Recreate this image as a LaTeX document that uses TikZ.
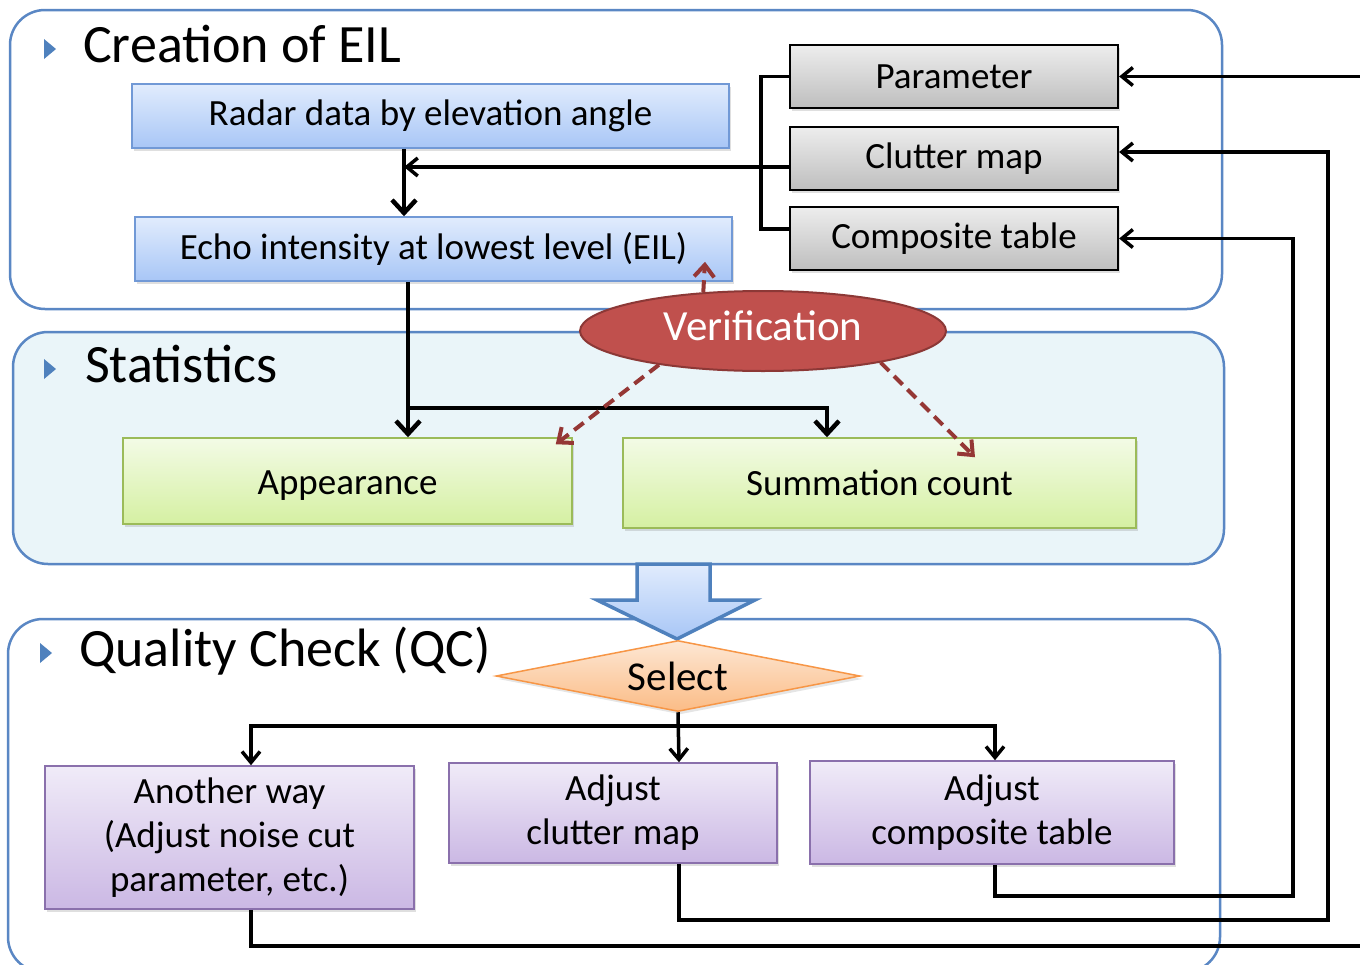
\documentclass[tikz,border=0pt]{standalone}
\usepackage{fontspec}
\setmainfont{Carlito}
\usetikzlibrary{arrows.meta,shapes.geometric,shadows}
\definecolor{panelc}{HTML}{5A87C4}
\definecolor{statfill}{HTML}{EAF5F9}
\definecolor{blueT}{HTML}{E1ECFD}
\definecolor{blueB}{HTML}{A8C6F6}
\definecolor{blueD}{HTML}{7199D6}
\definecolor{grayT}{HTML}{EDEDED}
\definecolor{grayB}{HTML}{BEBEBE}
\definecolor{greenT}{HTML}{F3FBE6}
\definecolor{greenB}{HTML}{D5F0A2}
\definecolor{greenD}{HTML}{9BBB59}
\definecolor{purT}{HTML}{F0EBF8}
\definecolor{purB}{HTML}{CBB8E4}
\definecolor{purD}{HTML}{8A70AC}
\definecolor{orT}{HTML}{FDE7D4}
\definecolor{orB}{HTML}{FBBC86}
\definecolor{orD}{HTML}{F79646}
\definecolor{verF}{HTML}{C0504D}
\definecolor{verD}{HTML}{8C3836}
\definecolor{verA}{HTML}{953735}
\definecolor{bigD}{HTML}{4F81BD}
\tikzset{
  panel/.style={draw=panelc, line width=2.5pt, rounded corners=35pt},
  box/.style={rectangle, inner sep=0pt, align=center, font=\fontsize{37}{44}\selectfont,
    drop shadow={opacity=0.25, shadow xshift=2pt, shadow yshift=-3pt}},
  bluebox/.style={box, draw=blueD, line width=1.5pt, top color=blueT, bottom color=blueB},
  graybox/.style={box, draw=black, line width=2.2pt, top color=grayT, bottom color=grayB},
  greenbox/.style={box, draw=greenD, line width=1.5pt, top color=greenT, bottom color=greenB},
  purbox/.style={box, draw=purD, line width=1.5pt, top color=purT, bottom color=purB},
  title/.style={anchor=base west, inner sep=0pt, font=\fontsize{54}{60}\selectfont},
  bullet/.style={fill=bigD, draw=none},
  tline/.style={draw=black, line width=3.5pt},
  tarrow/.style={tline, -{Straight Barb[length=11pt,width=18pt]}},
  karrow/.style={draw=black, line width=4.5pt, -{Straight Barb[length=13pt,width=24pt]}},
  varrow/.style={draw=verA, line width=4pt, dash pattern=on 12pt off 7pt,
    -{Straight Barb[length=12pt,width=20pt]}},
}
\begin{document}
\begin{tikzpicture}[x=1pt, y=-1pt]
\clip (0,0) rectangle (1360,964);
\fill[white] (0,0) rectangle (1360,964);

% panels
\draw[panel, fill=white] (10,10) rectangle (1222,309);
\draw[panel, fill=statfill] (13,332) rectangle (1224,564);
\draw[panel, fill=white] (8,619) rectangle (1220,972);

% bullets and titles
\fill[bullet] (44,39) -- (56,49) -- (44,59) -- cycle;
\node[title] (t1) at (83,62) {Creation of EIL};
\fill[bullet] (44,359) -- (56,369) -- (44,379) -- cycle;
\node[title] (t2) at (85,382) {Statistics};
\fill[bullet] (40,643) -- (52,653) -- (40,663) -- cycle;
\node[title] (t3) at (79,666) {Quality Check (QC)};

% creation boxes
\node[bluebox, minimum width=597pt, minimum height=64pt] (radar) at (430.5,116) {Radar data by elevation angle};
\node[bluebox, minimum width=597pt, minimum height=64pt] (echo) at (433.5,249) {Echo intensity at lowest level (EIL)};
\node[graybox, minimum width=328pt, minimum height=63pt] (param) at (954,76.5) {Parameter};
\node[graybox, minimum width=328pt, minimum height=63pt] (clutter) at (954,158.5) {Clutter map};
\node[graybox, minimum width=328pt, minimum height=63pt] (comp) at (954,238.5) {Composite table};

% statistics boxes
\node[greenbox, minimum width=449pt, minimum height=86pt, text height=36pt, text depth=9pt] (app) at (347.5,481) {Appearance};
\node[greenbox, minimum width=513pt, minimum height=90pt] (summ) at (879.5,483) {Summation count};

% QC boxes
\node[purbox, minimum width=369pt, minimum height=143pt] (anoth) at (229.5,837.5) {Another way\\(Adjust noise cut\\parameter, etc.)};
\node[purbox, minimum width=328pt, minimum height=100pt] (adjc) at (613,813) {Adjust\\clutter map};
\node[purbox, minimum width=364pt, minimum height=103pt] (adjt) at (992,812.5) {Adjust\\composite table};

% big arrow
\shade[top color=blueT, bottom color=blueB, draw=bigD, line width=3.5pt, line join=miter]
  (637,564) -- (710,564) -- (710,600) -- (755,600) -- (677,639) -- (597,600) -- (637,600) -- cycle;

% select diamond
\node[diamond, aspect=5.13, draw=orD, line width=1.5pt, top color=orT, bottom color=orB, inner sep=0pt,
  minimum width=364pt, minimum height=71pt, font=\fontsize{41}{44}\selectfont,
  drop shadow={opacity=0.2, shadow xshift=2pt, shadow yshift=-3pt}] (sel) at (678,676) {Select};

% connectors in creation
\draw[karrow] ([xshift=-26.5pt]radar.south) -- ([xshift=-29.5pt]echo.north);
\coordinate (j1) at (404,167);
\draw[tarrow] ([yshift=-8.5pt]clutter.west) -- (j1);
\draw[tline] (param.west) -- ++(-28,0) |- ([yshift=9.5pt]comp.west);

% connectors to statistics
\draw[karrow] ([xshift=-25.5pt]echo.south) -- ([xshift=60.5pt]app.north);
\coordinate (j2) at (408,408);
\draw[karrow] (j2) -| ([xshift=-52.5pt]summ.north);

% verification
\node[ellipse, draw=verD, line width=2pt, fill=verF, inner sep=0pt,
  minimum width=366pt, minimum height=80pt, text=white, text height=30pt, text depth=12pt,
  font=\fontsize{43}{44}\selectfont] (ver) at (763,331) {Verification};
\draw[varrow] (ver.147) -- ([xshift=271.5pt,yshift=20pt]echo.south);
\draw[varrow] (ver.198) -- ([xshift=-17pt,yshift=-7pt]app.north east);
\draw[varrow] (ver.345) -- ([xshift=95.5pt,yshift=-20pt]summ.north);

% select connectors
\draw[tarrow] (sel.south) -- ([xshift=66pt]adjc.north);
\coordinate (j3) at (678,726);
\draw[tarrow] (j3) -| ([xshift=21.5pt]anoth.north);
\draw[tarrow] (j3) -| ([xshift=3pt]adjt.north);

% feedback loops
\coordinate (e1) at (1362,76.5);
\coordinate (e2) at (1362,946);
\coordinate (c1) at (1328,920);
\coordinate (c2) at (1293,896);
\draw[tarrow] (e1) -- (param.east);
\draw[tline] ([xshift=21.5pt]anoth.south) |- (e2);
\draw[tarrow] ([xshift=66pt]adjc.south) |- (c1) |- ([yshift=6.5pt]clutter.east);
\draw[tarrow] ([xshift=3pt]adjt.south) |- (c2) |- (comp.east);
\end{tikzpicture}
\end{document}
